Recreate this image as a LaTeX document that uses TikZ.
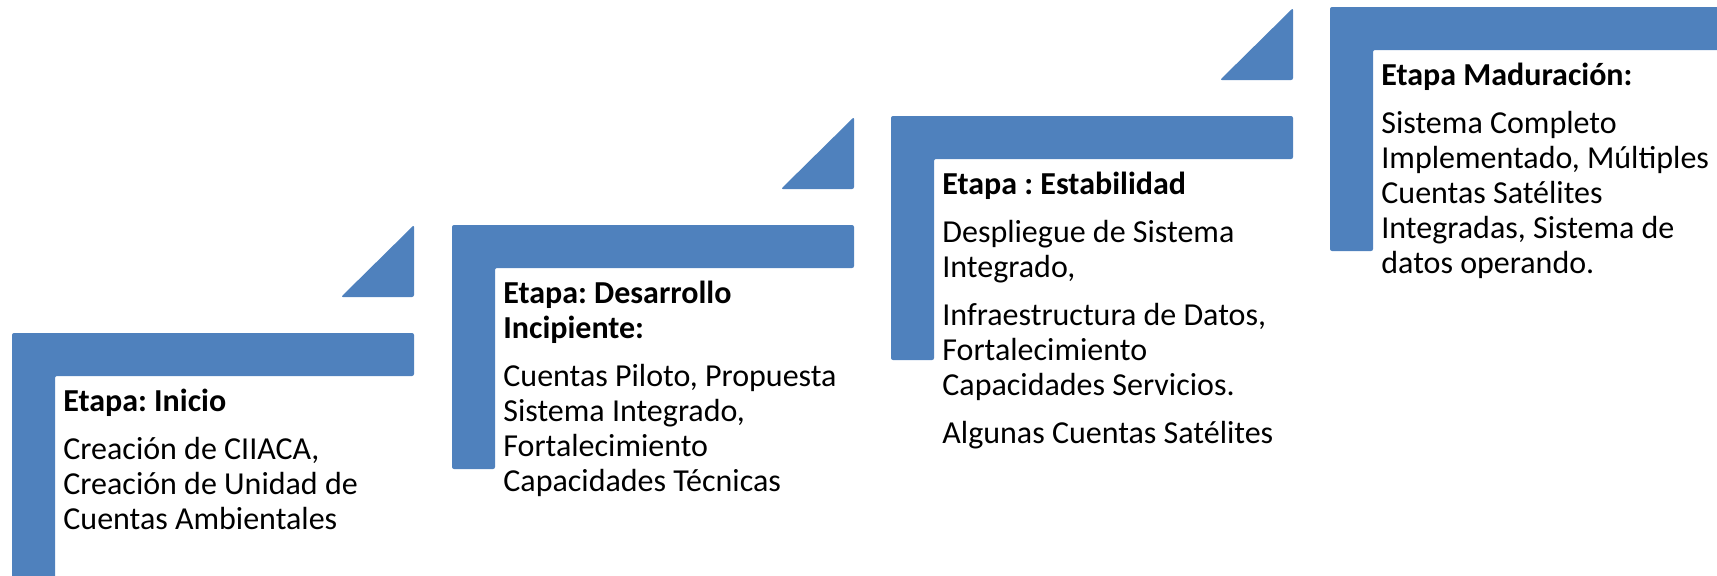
\documentclass[tikz,border=0pt]{standalone}
\usepackage{fontspec}
\setmainfont{Carlito}
\definecolor{stageblue}{HTML}{4F81BD}
\tikzset{
  lshape/.style={fill=stageblue, rounded corners=1pt},
  wedge/.style={fill=stageblue, rounded corners=1pt},
  stagetext/.style={anchor=base west, inner sep=0pt, font=\fontsize{16}{17.6}\selectfont},
}
\newcommand{\stagebody}[1]{\parbox[t]{200pt}{\raggedright\frenchspacing #1}}
\frenchspacing
\begin{document}
\begin{tikzpicture}[x=0.5pt,y=-0.5pt]
\clip (0,0) rectangle (1717,575);
\useasboundingbox (0,0) rectangle (1717,575);
% Stage 1
\begin{scope}[shift={(12,333)}]
  \fill[lshape] (0,0) -- (402,0) -- (402,43) -- (43,43) -- (43,300) -- (0,300) -- cycle;
  \fill[wedge] (402,-108) -- (402,-36) -- (329,-36) -- cycle;
  \node[stagetext] (t1) at (51,78) {\stagebody{\textbf{Etapa: Inicio}\\[6.4pt]
    Creación de CIIACA,\\ Creación de Unidad de\\ Cuentas Ambientales}};
\end{scope}
% Stage 2
\begin{scope}[shift={(452,225)}]
  \fill[lshape] (0,0) -- (402,0) -- (402,43) -- (43,43) -- (43,244) -- (0,244) -- cycle;
  \fill[wedge] (402,-108) -- (402,-36) -- (329,-36) -- cycle;
  \node[stagetext] (t2) at (51,78) {\stagebody{\textbf{Etapa: Desarrollo\\ Incipiente:}\\[6.4pt]
    Cuentas Piloto, Propuesta\\ Sistema Integrado,\\ Fortalecimiento\\ Capacidades Técnicas}};
\end{scope}
% Stage 3
\begin{scope}[shift={(891,116)}]
  \fill[lshape] (0,0) -- (402,0) -- (402,43) -- (43,43) -- (43,244) -- (0,244) -- cycle;
  \fill[wedge] (402,-108) -- (402,-36) -- (329,-36) -- cycle;
  \node[stagetext] (t3) at (51,78) {\stagebody{\textbf{Etapa : Estabilidad}\\[6.4pt]
    Despliegue de Sistema\\ Integrado,\\[6.4pt] Infraestructura de Datos,\\ Fortalecimiento\\ Capacidades Servicios.\\[6.4pt] Algunas Cuentas Satélites}};
\end{scope}
% Stage 4
\begin{scope}[shift={(1330,7)}]
  \fill[lshape] (0,0) -- (402,0) -- (402,43) -- (43,43) -- (43,244) -- (0,244) -- cycle;
  \node[stagetext] (t4) at (51,78) {\stagebody{\textbf{Etapa Maduración:}\\[6.4pt]
    Sistema Completo\\ Implementado, Múltiples\\ Cuentas Satélites\\ Integradas, Sistema de\\ datos operando.}};
\end{scope}
\end{tikzpicture}
\end{document}
